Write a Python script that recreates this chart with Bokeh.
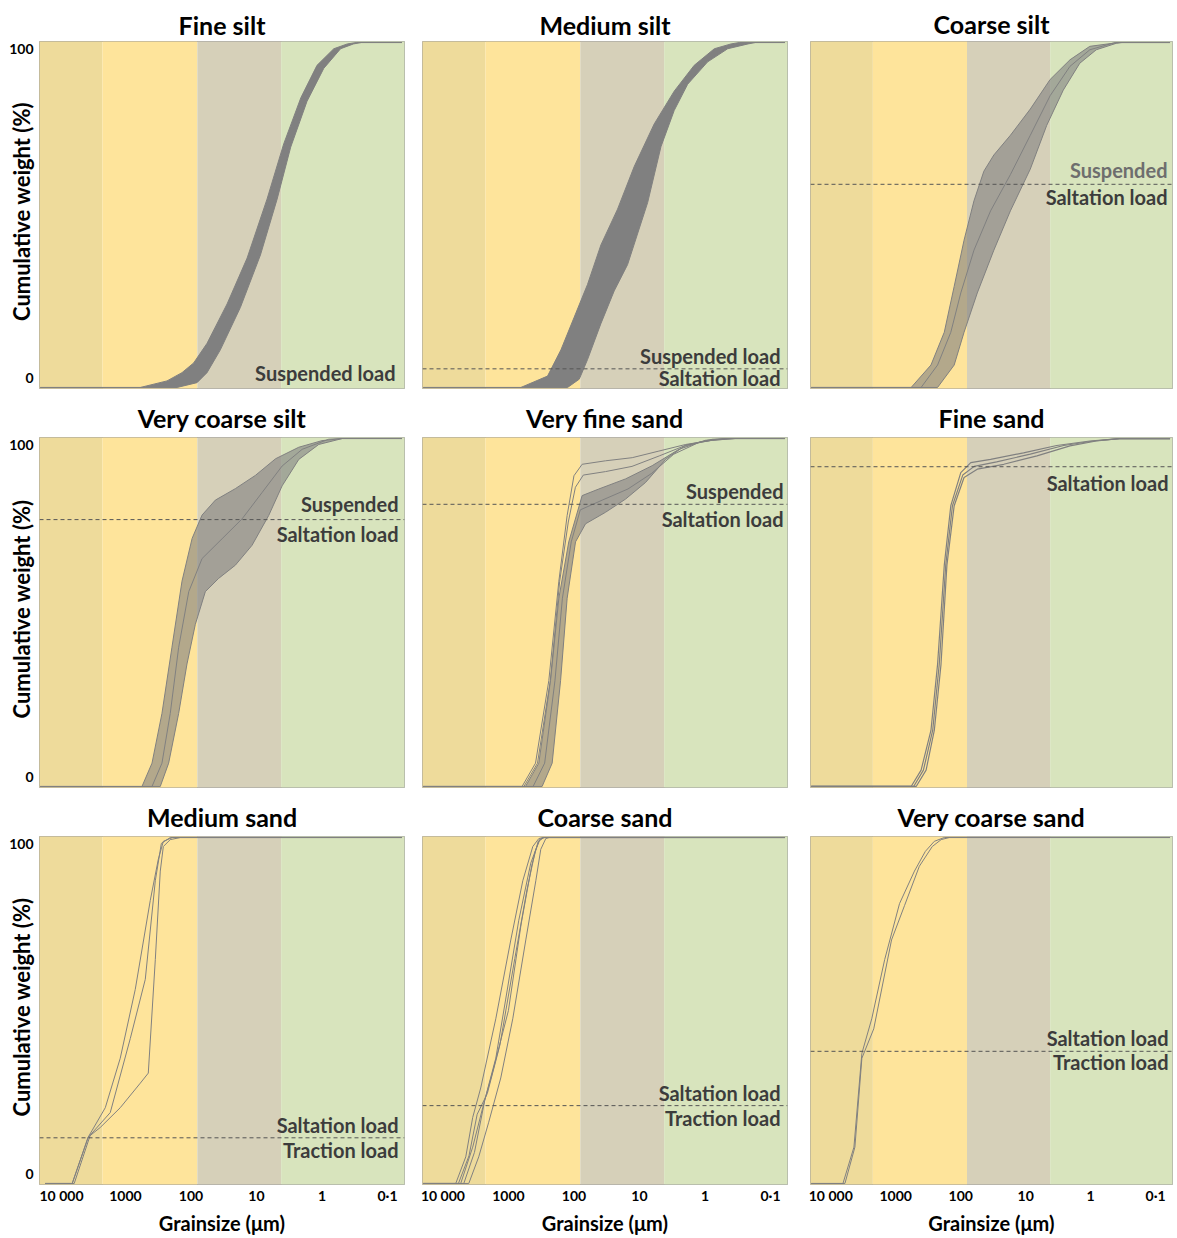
import math
from bokeh.plotting import figure
from bokeh.models import Range1d, Label, Span, FixedTicker
from bokeh.layouts import column, row
from bokeh.embed import file_html
from bokeh.resources import INLINE

# ------------------------------------------------------------------ data
x_ticks = [10000, 1000, 100, 10, 1, 0.1]
x_tick_labels = ["10 000", "1000", "100", "10", "1", "0·1"]
band_edges_um = [100000, 2250, 80, 4.2, 0.01]
band_colors = ["#EEDB9B", "#FEE49B", "#D6D0B9", "#D8E4BD"]

# Fine silt (envelopes of a dense bundle)
fsi_a_um = [20000, 593, 232, 137, 91, 56.8, 28.1, 13.9, 6.9, 3.84, 2.1, 1.19, 0.66, 0.41, 0.3, 0.06]
fsi_a_pct = [0, 0, 1.9, 4.3, 7.1, 12.8, 24.2, 37.5, 54.6, 70.6, 84, 93.4, 98.2, 99.6, 100, 100]
fsi_b_um = [20000, 163, 80.7, 56.8, 35.6, 17.6, 8.7, 4.84, 3.0, 1.69, 0.94, 0.52, 0.33, 0.25, 0.06]
fsi_b_pct = [0, 0, 1.4, 4.3, 10.9, 23.2, 38.4, 54.6, 69.7, 83, 92.5, 98.2, 99.6, 100, 100]

# Medium silt
msi_a_um = [20000, 647, 253, 158, 99, 62, 38.8, 21.6, 12.0, 5.96, 2.95, 1.46, 0.72, 0.40, 0.3, 0.06]
msi_a_pct = [0, 0, 3.3, 10.9, 20.4, 29.9, 41.3, 51.7, 64.1, 76.4, 85.9, 93.4, 98.2, 99.6, 100, 100]
msi_b_um = [20000, 125, 83, 62, 38.8, 24.3, 15.2, 7.5, 4.7, 2.95, 1.84, 0.91, 0.45, 0.22, 0.17, 0.06]
msi_b_pct = [0, 0, 2.4, 8.1, 18.5, 28, 35.6, 53.6, 69.8, 80.3, 87.9, 94.4, 98.2, 99.6, 100, 100]

# Coarse silt
csi_a_um = [20000, 579, 287, 179, 126, 88.8, 62.5, 44, 30.9, 17.2, 8.5, 4.2, 2.08, 1.03, 0.45, 0.35, 0.06]
csi_a_pct = [0, 0, 6.5, 16, 29.3, 42.7, 54.1, 62.7, 67.4, 73.1, 80.7, 89.3, 95, 98.9, 99.8, 100, 100]
csi_b_um = [20000, 227, 126, 88.8, 55.6, 30.9, 17.2, 8.5, 4.74, 2.64, 1.47, 0.82, 0.40, 0.33, 0.06]
csi_b_pct = [0, 0, 6.5, 16, 27.4, 39.8, 51.2, 63.3, 76, 86.2, 94, 97.9, 99.8, 100, 100]
csi_c_um = [20000, 407, 227, 142, 99.7, 62.5, 34.7, 17.2, 8.5, 4.2, 2.08, 1.03, 0.42, 0.06]
csi_c_pct = [0, 0, 6.5, 16, 27.4, 39.8, 51.2, 61.7, 73.1, 84.6, 93.1, 97.9, 100, 100]

# Very coarse silt
vcsi_a_um = [20000, 559, 393, 277, 195, 137, 96, 67.7, 42.4, 21, 10.4, 5.1, 2.26, 1.0, 0.49, 0.06]
vcsi_a_pct = [0, 0, 6.7, 21, 40, 59, 71.3, 78, 82.3, 85.6, 89.4, 94.2, 97.5, 99.4, 100, 100]
vcsi_b_um = [20000, 294, 219, 154, 115, 85.7, 60.3, 37.8, 21, 11.7, 6.5, 4.06, 2.26, 1.12, 0.49, 0.06]
vcsi_b_pct = [0, 0, 6.7, 21, 35.2, 46.6, 56, 59.8, 63.6, 69.3, 77.9, 86.4, 94, 98.3, 100, 100]
vcsi_c_um = [20000, 393, 277, 207, 154, 108, 67.7, 33.5, 16.6, 8.2, 4.06, 2.01, 0.79, 0.5, 0.06]
vcsi_c_pct = [0, 0, 6.7, 21, 40, 56, 65.5, 71.2, 76.9, 84.5, 92.1, 96.9, 99.8, 100, 100]

# Very fine sand
vfs_a_um = [20000, 549, 344, 228, 170, 120, 75, 41.7, 16.3, 6.4, 2.5, 0.98, 0.48, 0.06]
vfs_a_pct = [0, 0, 6.7, 30.4, 54.1, 70.3, 83.6, 85.5, 88.4, 92.2, 96.9, 99.5, 100, 100]
vfs_b_um = [20000, 306, 215, 160, 127, 94.6, 66.5, 33, 16.3, 8.05, 3.99, 1.97, 0.77, 0.45, 0.06]
vfs_b_pct = [0, 0, 6.7, 30.4, 54.1, 70.3, 75.5, 78.8, 82.6, 87.4, 94, 98.1, 99.8, 100, 100]
vfs_c_um = [20000, 420, 280, 195, 150, 110, 80, 37, 15, 6.5, 3, 1.2, 0.5, 0.06]
vfs_c_pct = [0, 0, 6.7, 30.4, 54.1, 70.3, 79.5, 82.3, 85.5, 90, 95.5, 99, 100, 100]
vfs_d_um = [20000, 619, 386, 242, 170, 127, 100, 75, 33, 12.9, 5.05, 1.97, 0.77, 0.34, 0.06]
vfs_d_pct = [0, 0, 6.7, 30.4, 59, 77.9, 89.3, 92.6, 93.6, 94.5, 96.4, 98.3, 99.5, 100, 100]
vfs_e_um = [20000, 580, 360, 230, 165, 122, 95, 72, 33, 13, 5, 2, 0.8, 0.35, 0.06]
vfs_e_pct = [0, 0, 6.7, 30.4, 59, 76, 86, 89.5, 90.5, 92, 95, 98, 99.5, 100, 100]

# Fine sand
fsa_a_um = [20000, 579, 407, 287, 227, 179, 142, 99.7, 70, 34.7, 10.8, 3.33, 1.03, 0.36, 0.06]
fsa_a_pct = [0, 0, 4.7, 16.1, 35.1, 63.6, 80.7, 90.2, 93.1, 94, 95.9, 98, 99.3, 100, 100]
fsa_b_um = [20000, 485, 341, 255, 201, 163, 126, 88.8, 55.6, 21.7, 6.7, 2.08, 0.82, 0.36, 0.06]
fsa_b_pct = [0, 0, 4.7, 16.1, 35.1, 63.6, 80.7, 88.8, 91.2, 92.6, 95, 97.9, 99.3, 100, 100]
fsa_c_um = [20000, 530, 375, 270, 214, 170, 134, 93, 62, 28, 8.5, 2.6, 0.9, 0.36, 0.06]
fsa_c_pct = [0, 0, 4.7, 16.1, 35.1, 63.6, 80.7, 89.5, 92, 93.3, 95.5, 98, 99.3, 100, 100]

# Medium sand
msa_a_um = [16800, 6490, 3700, 2420, 1200, 593, 448, 350, 294, 264, 207, 145, 0.06]
msa_a_pct = [0, 0, 13.4, 16.2, 21.9, 29, 31.9, 64.7, 90.3, 97.4, 99.4, 100, 100]
msa_b_um = [16800, 6490, 3700, 3210, 2030, 1200, 708, 418, 315, 264, 192, 0.06]
msa_b_pct = [0, 0, 13.4, 15.4, 21.9, 36.2, 56.1, 81.8, 93.7, 98.9, 100, 100]
msa_c_um = [16800, 6050, 3440, 1705, 843, 498, 350, 283, 207, 0.06]
msa_c_pct = [0, 0, 14, 20.5, 41.9, 59, 87.5, 98.3, 100, 100]

# Coarse sand
csa_a_um = [20000, 6370, 4480, 3510, 2650, 1560, 920, 604, 425, 344, 300, 0.06]
csa_a_pct = [0, 0, 7.7, 19.1, 27.6, 47.6, 70.4, 87.5, 97.4, 99.7, 100, 100]
csa_b_um = [20000, 4030, 2840, 2000, 1310, 859, 543, 382, 321, 269, 240, 0.06]
csa_b_pct = [0, 0, 7.7, 17.7, 30.5, 47.6, 70.4, 87.5, 96.6, 99.7, 100, 100]
csa_c_um = [20000, 5350, 3510, 2470, 1560, 1100, 695, 456, 344, 290, 0.06]
csa_c_pct = [0, 0, 10.5, 21.9, 36.2, 53.3, 76.1, 92.6, 98.9, 100, 100]
csa_d_um = [20000, 5800, 4000, 3000, 2100, 1350, 800, 520, 390, 330, 280, 0.06]
csa_d_pct = [0, 0, 8, 20, 26, 40, 65, 85, 96, 99.5, 100, 100]
csa_e_um = [20000, 4800, 3300, 2300, 1700, 1000, 640, 440, 350, 300, 0.06]
csa_e_pct = [0, 0, 9, 24, 33, 50, 75, 92, 99, 100, 100]

# Very coarse sand
vcsa_a_um = [20000, 6490, 4400, 3320, 2340, 1480, 874, 515, 350, 255, 179, 0.06]
vcsa_a_pct = [0, 0, 10.5, 37.6, 47.6, 64.7, 80.9, 90.3, 96, 98.9, 100, 100]
vcsa_b_um = [20000, 6050, 4250, 3320, 2180, 1160, 733, 433, 274, 200, 150, 0.06]
vcsa_b_pct = [0, 0, 10.5, 36.2, 44.7, 70.4, 80.3, 91.7, 97.4, 99.4, 100, 100]

titles = ["Fine silt", "Medium silt", "Coarse silt",
          "Very coarse silt", "Very fine sand", "Fine sand",
          "Medium sand", "Coarse sand", "Very coarse sand"]
boundary_pct = [None, 5.4, 58.9, 76.7, 81.1, 91.9, 13.2, 22.5, 38.2]
upper_text = ["Suspended load", "Suspended load", "Suspended", "Suspended", "Suspended", None,
              "Saltation load", "Saltation load", "Saltation load"]
lower_text = [None, "Saltation load", "Saltation load", "Saltation load", "Saltation load", "Saltation load",
              "Traction load", "Traction load", "Traction load"]
y_ticks = [0, 100]
y_tick_labels = ["0", "100"]
y_title = "Cumulative weight (%)"
x_title = "Grainsize (μm)"

# ------------------------------------------------------------------ style / layout
FONT = "Lato"
CURVE = "#808080"
X_START, X_END = 20500, 0.055
Y_MIN, Y_MAX = -0.3, 100.3

STRIP_W = 39
COLS = [dict(w=374, l=0, r=9), dict(w=385, l=9, r=11), dict(w=378, l=12, r=4)]
# row: figure height, top border, bottom border, title standoff
ROWS = [dict(h=393, t=38, b=5, so=3), dict(h=399, t=44, b=5, so=10), dict(h=445, t=44, b=50, so=10)]

# text placement (px): right margin, upper offset (pos = up), lower offset
TXT = [(9, 14, 0), (7, 13, -9), (5, 14, -13),
       (6, 16, -14), (4, 13, -15), (4, 0, -16),
       (6, 13, -12), (7, 13, -12), (4, 13, -11)]


def make_panel(k, top_adj=0):
    ri, ci = divmod(k, 3)
    c, r = COLS[ci], ROWS[ri]
    bottom_axis = ri == 2
    p = figure(width=c["w"], height=r["h"], x_axis_type="log",
               x_range=Range1d(X_START, X_END), y_range=Range1d(Y_MIN, Y_MAX),
               x_axis_location="below" if bottom_axis else None, y_axis_location=None,
               title=titles[k], title_location="above",
               toolbar_location=None, output_backend="svg",
               min_border_left=c["l"], min_border_right=c["r"],
               min_border_top=r["t"] + top_adj, min_border_bottom=r["b"] - top_adj)
    p.title.align = "center"
    p.title.text_font = FONT
    p.title.text_font_style = "bold"
    p.title.text_font_size = "25px"
    p.title.text_color = "#000000"
    p.title.standoff = r["so"] + top_adj
    p.outline_line_color = "#9A9A9A"
    p.outline_line_width = 1
    p.background_fill_color = "white"
    p.border_fill_color = "white"
    p.grid.visible = False

    p.quad(left=band_edges_um[:-1], right=band_edges_um[1:], bottom=-10, top=110,
           fill_color=band_colors, line_color=None)

    if bottom_axis:
        ax = p.xaxis[0]
        ax.ticker = FixedTicker(ticks=x_ticks, minor_ticks=[])
        ax.major_label_overrides = {t: s for t, s in zip(x_ticks, x_tick_labels)}
        ax.axis_line_color = None
        ax.major_tick_line_color = None
        ax.minor_tick_line_color = None
        ax.major_tick_out = 0
        ax.major_tick_in = 0
        ax.major_label_standoff = 2
        ax.major_label_text_font = FONT
        ax.major_label_text_font_style = "bold"
        ax.major_label_text_font_size = "14px"
        ax.major_label_text_color = "#000000"
        ax.axis_label = x_title
        ax.axis_label_standoff = 4
        ax.axis_label_text_font = FONT
        ax.axis_label_text_font_style = "bold"
        ax.axis_label_text_font_size = "20px"
        ax.axis_label_text_color = "#000000"
    return p


def make_strip(ri):
    """Left strip holding the y tick labels and the y title of a row."""
    r = ROWS[ri]
    s = figure(width=STRIP_W, height=r["h"], x_range=Range1d(0, 1),
               y_range=Range1d(Y_MIN, Y_MAX), x_axis_location=None, y_axis_location=None,
               title_location=None, toolbar_location=None, output_backend="svg",
               min_border_left=0, min_border_right=0,
               min_border_top=r["t"], min_border_bottom=r["b"])
    s.outline_line_color = None
    s.background_fill_color = "white"
    s.border_fill_color = "white"
    s.grid.visible = False
    for yt, lab in zip(y_ticks, y_tick_labels):
        s.add_layout(Label(x=1, y=yt, x_offset=-6, y_offset=(9 if yt == 0 else -6),
                           text=lab, text_align="right", text_baseline="alphabetic",
                           text_font=FONT, text_font_style="bold", text_font_size="14px",
                           text_color="#000000"))
    s.add_layout(Label(x=1, y=51, x_offset=-18, angle=math.pi / 2,
                       text=y_title, text_align="center",
                       text_baseline="alphabetic", text_font=FONT,
                       text_font_style="bold", text_font_size="22px",
                       text_color="#000000"))
    return s


def band(p, a_um, a_pct, b_um, b_pct, alpha):
    p.patch(x=a_um + b_um[::-1], y=a_pct + b_pct[::-1], fill_color=CURVE,
            fill_alpha=alpha, line_color=None)


def curve(p, um, pct, w=1.0):
    p.line(x=um, y=pct, line_color=CURVE, line_width=w)


def annotate(p, k):
    margin, up, low = TXT[k]
    b = boundary_pct[k]
    if b is not None:
        p.add_layout(Span(location=b, dimension="width", line_color="#555555",
                          line_dash="4 3", line_width=1))
    base = b if b is not None else 0
    if upper_text[k]:
        col = "#6E6E6E" if k == 2 else "#3C3C3C"
        p.add_layout(Label(x=X_END, y=base, x_offset=-margin, y_offset=up, text=upper_text[k],
                           text_align="right", text_baseline="alphabetic", text_font=FONT,
                           text_font_style="bold", text_font_size="20px", text_color=col))
    if lower_text[k]:
        p.add_layout(Label(x=X_END, y=base, x_offset=-margin, y_offset=low, text=lower_text[k],
                           text_align="right", text_baseline="alphabetic", text_font=FONT,
                           text_font_style="bold", text_font_size="20px", text_color="#3C3C3C"))


panels = [make_panel(k, top_adj=3 if k == 2 else 0) for k in range(9)]

# Fine silt
p = panels[0]
band(p, fsi_a_um, fsi_a_pct, fsi_b_um, fsi_b_pct, 1.0)
curve(p, fsi_a_um, fsi_a_pct); curve(p, fsi_b_um, fsi_b_pct)
# Medium silt
p = panels[1]
band(p, msi_a_um, msi_a_pct, msi_b_um, msi_b_pct, 1.0)
curve(p, msi_a_um, msi_a_pct); curve(p, msi_b_um, msi_b_pct)
# Coarse silt
p = panels[2]
band(p, csi_a_um, csi_a_pct, csi_b_um, csi_b_pct, 0.6)
for u, c in [(csi_a_um, csi_a_pct), (csi_b_um, csi_b_pct), (csi_c_um, csi_c_pct)]:
    curve(p, u, c)
# Very coarse silt
p = panels[3]
band(p, vcsi_a_um, vcsi_a_pct, vcsi_b_um, vcsi_b_pct, 0.6)
for u, c in [(vcsi_a_um, vcsi_a_pct), (vcsi_b_um, vcsi_b_pct), (vcsi_c_um, vcsi_c_pct)]:
    curve(p, u, c)
# Very fine sand
p = panels[4]
band(p, vfs_a_um, vfs_a_pct, vfs_b_um, vfs_b_pct, 0.6)
for u, c in [(vfs_a_um, vfs_a_pct), (vfs_b_um, vfs_b_pct), (vfs_c_um, vfs_c_pct),
             (vfs_d_um, vfs_d_pct), (vfs_e_um, vfs_e_pct)]:
    curve(p, u, c)
# Fine sand
p = panels[5]
for u, c in [(fsa_a_um, fsa_a_pct), (fsa_b_um, fsa_b_pct), (fsa_c_um, fsa_c_pct)]:
    curve(p, u, c, 1.2)
# Medium sand
p = panels[6]
for u, c in [(msa_a_um, msa_a_pct), (msa_b_um, msa_b_pct), (msa_c_um, msa_c_pct)]:
    curve(p, u, c)
# Coarse sand
p = panels[7]
for u, c in [(csa_a_um, csa_a_pct), (csa_b_um, csa_b_pct), (csa_c_um, csa_c_pct),
             (csa_d_um, csa_d_pct), (csa_e_um, csa_e_pct)]:
    curve(p, u, c)
# Very coarse sand
p = panels[8]
for u, c in [(vcsa_a_um, vcsa_a_pct), (vcsa_b_um, vcsa_b_pct)]:
    curve(p, u, c)

for k in range(9):
    annotate(panels[k], k)

rows = [row([make_strip(ri)] + panels[3 * ri:3 * ri + 3]) for ri in range(3)]
layout = column(rows)

with open("out.html", "w") as f:
    f.write(file_html(layout, INLINE))
